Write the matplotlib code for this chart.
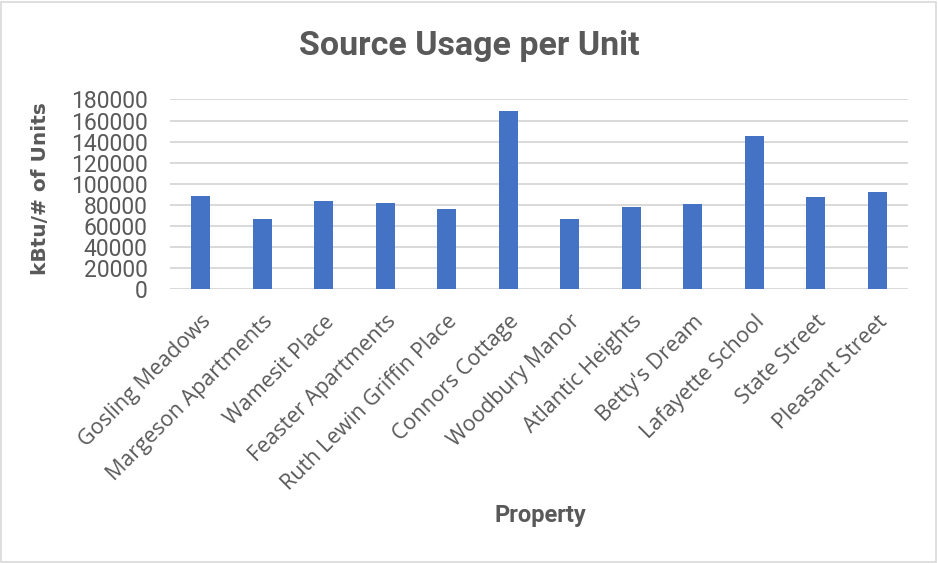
import matplotlib.pyplot as plt
from matplotlib.patches import Rectangle

properties = [
    "Gosling Meadows", "Margeson Apartments", "Wamesit Place",
    "Feaster Apartments", "Ruth Lewin Griffin Place", "Connors Cottage",
    "Woodbury Manor", "Atlantic Heights", "Betty's Dream",
    "Lafayette School", "State Street", "Pleasant Street",
]
usage_per_unit = [88100, 66500, 83600, 81400, 75700, 168900,
                  66500, 77600, 81100, 145300, 87100, 92500]
y_ticks = list(range(0, 180001, 20000))

TEXT = "#595959"
BAR = "#4472C4"
GRID = "#D9D9D9"

fig = plt.figure(figsize=(9.38, 5.63), dpi=100)
ax = fig.add_axes([0.181, 0.4867, 0.787, 0.3366])

x = range(len(properties))
ax.bar(x, usage_per_unit, width=0.31, color=BAR, zorder=3)

ax.set_xlim(-0.5, len(properties) - 0.5)
ax.set_ylim(0, 180000)
ax.set_yticks(y_ticks)
ax.set_yticklabels([str(v) for v in y_ticks], fontsize=16.5,
                   family="Roboto", color=TEXT)
ax.set_xticks(list(x))
ax.set_xticklabels(properties, rotation=45, ha="right", rotation_mode="anchor",
                   fontsize=15.5, family="Open Sans", color=TEXT)
ax.tick_params(axis="both", length=0)
ax.tick_params(axis="x", pad=16)
ax.tick_params(axis="y", pad=16)

ax.grid(axis="y", color=GRID, linewidth=1.4, zorder=0)
for s in ax.spines.values():
    s.set_visible(False)

ax.set_ylabel("kBtu/# of Units", fontsize=14.5, fontweight="bold",
              color=TEXT, labelpad=6)
ax.yaxis.set_label_coords(-0.162, 0.53)
fig.text(0.5, 0.918, "Source Usage per Unit", ha="center", va="center",
         fontsize=24.5, family="Roboto", fontweight="bold", color=TEXT)
fig.text(0.576, 0.085, "Property", ha="center", va="center",
         fontsize=17, family="Roboto", fontweight="bold", color=TEXT)

# thin frame round the chart area
fig.patches.append(Rectangle((0.001, 0.002), 0.997, 0.995, transform=fig.transFigure,
                             fill=False, edgecolor=GRID, linewidth=1.2))

fig.savefig("out.png", dpi=100)
